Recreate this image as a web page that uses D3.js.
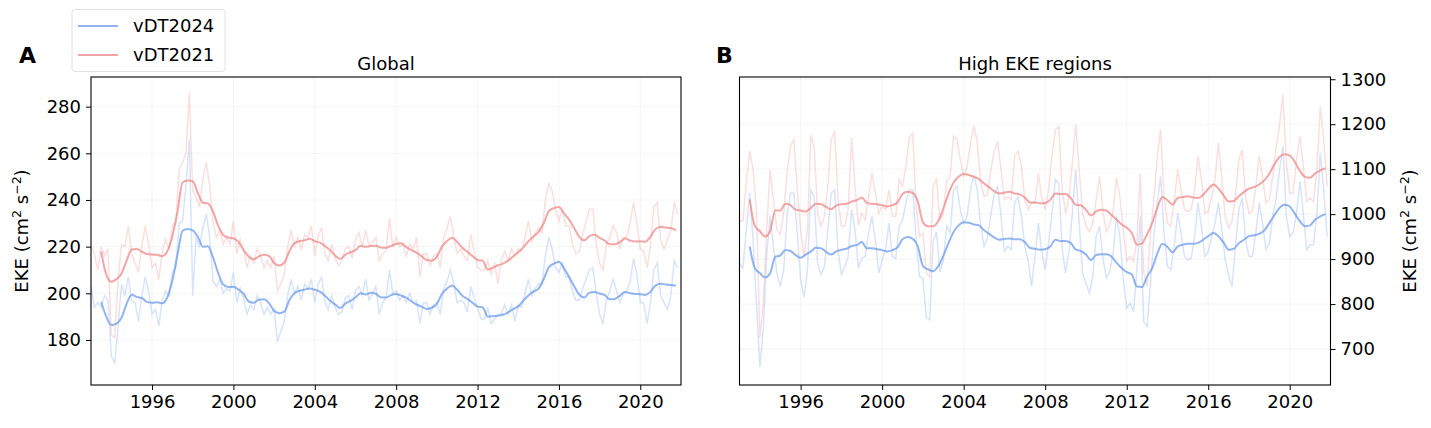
<!DOCTYPE html>
<html>
<head>
<meta charset="utf-8">
<script src="https://cdn.jsdelivr.net/npm/d3@7"></script>
<style>
  body { margin: 0; background: #fff; }
  svg { font-family: "DejaVu Sans", sans-serif; }
</style>
</head>
<body>
<svg id="chart"></svg>
<script>
// monthly-ish raw series (every 2 months from 1993.0)
let rawStart = 1993.0
let rawStep = 1 / 6
// smoothed series (quarterly from 1993.5)
let smStart = 1993.5
let smStep = 0.25

let rawGlobal2021 = [
  220,217,210,220,216,219,182,181,206,221, 220,229,217,213,209,220,229,221,211,213,
  206,218,223,219,229,230,253,256,260,286, 244,241,237,249,256,246,230,224,227,221,
  224,221,231,217,223,219,211,216,213,219, 216,211,214,211,216,201,204,208,220,227,
  220,224,219,225,224,229,216,225,228,217, 214,221,215,212,214,219,220,215,223,226,
  220,227,220,222,224,214,217,218,232,220, 224,220,221,216,221,219,224,207,217,217,
  212,216,217,211,224,228,233,224,217,219, 216,214,225,218,211,210,210,214,208,213,
  204,214,218,214,219,216,219,218,224,231, 222,226,228,226,240,247,244,236,231,236,
  229,229,221,217,218,225,231,236,236,221, 213,210,221,224,229,226,219,224,224,230,
  239,230,219,218,211,220,237,239,223,219, 223,227,239,234
]
let rawGlobal2024 = [
  203,194,196,194,199,197,173,170,186,204, 199,207,197,196,188,199,207,201,191,193,
  186,197,201,199,209,211,230,231,246,266, 199,224,220,228,234,224,205,203,206,200,
  202,201,209,196,202,198,191,195,193,199, 196,191,194,191,193,179,184,188,199,206,
  200,203,197,204,202,206,196,204,207,196, 193,199,194,191,192,198,199,193,201,203,
  199,206,197,200,203,191,196,198,210,200, 201,197,199,196,200,196,197,187,196,196,
  191,195,196,191,202,205,210,204,196,197, 196,192,203,198,194,189,189,194,187,189,
  191,191,195,191,195,188,195,194,200,206, 199,202,204,204,216,224,219,211,209,213,
  207,207,201,197,197,202,206,210,211,200, 191,187,197,201,206,201,196,200,201,205,
  215,208,196,196,187,196,210,213,199,196, 193,199,214,211
]
let rawHigh2021 = [
  984,984,1069,1140,1099,1010,725,800,965,1099, 1032,965,954,1002,1091,1151,1166,1054,965,906,
  965,1175,1150,1002,973,995,1062,1165,1185,1032, 973,973,1010,1170,1062,976,1002,987,1039,1091,
  1047,1002,1017,1010,1054,995,995,1077,1062,1106, 1170,1180,1017,950,958,870,860,1060,1080,984,
  1002,1073,1084,1173,1166,1121,1084,1106,1155,1197, 1158,1073,1039,1043,1099,1140,1162,1099,1032,1039,
  1032,1129,1140,1106,1032,1010,1025,1025,1091,1036, 1010,1054,1132,1188,1195,1054,1002,1036,1114,1199,
  1099,1002,976,961,980,1032,1084,1006,961,976, 1006,1080,1039,965,895,906,895,943,1091,870,
  840,958,1032,1129,1188,1039,980,973,1032,1099, 1054,1010,1006,1010,1054,1129,1077,1002,1006,1039,
  1077,1158,1077,995,969,984,1039,1121,1143,1039, 1002,1006,1062,1129,1084,1025,1032,1084,1147,1200,
  1265,1114,1047,1047,1121,1173,1106,1028,1036,1028, 1099,1240,1166,1062
]
let rawHigh2024 = [
  891,880,965,1047,943,802,660,742,906,995, 928,869,839,876,995,1047,1047,958,854,816,
  876,1054,1039,891,865,883,965,1047,1054,921, 865,883,906,1010,965,880,902,906,958,995,
  943,869,898,921,980,906,902,973,987,1025, 1054,1054,943,861,858,770,765,940,960,872,
  898,973,958,1054,1062,1010,980,995,1054,1088, 1054,976,928,947,999,1043,1062,995,917,928,
  921,1025,1039,995,928,895,840,906,980,917, 876,935,1002,1077,1069,921,869,917,1002,1099,
  980,869,846,824,861,950,973,902,858,872, 913,995,950,854,791,802,783,876,995,760,
  750,846,950,1025,1084,958,884,876,928,1002, 958,906,898,902,950,1025,973,906,917,950,
  980,1025,965,898,865,839,928,1010,1036,943, 906,906,958,1025,980,921,935,995,1036,1099,
  1151,995,950,958,1002,1073,1002,921,932,932, 1002,1136,1054,950
]

let smGlobal2021 = [
  217.9,208,205,206,208.5,214,218.8,219,217.8,216.8, 216.6,216.5,215.9,218,224.5,235,247.5,248.3,248,243,
  238.8,238.5,235,229,225,223.9,223.6,222,218.5,215.8, 214.6,215.8,216.5,216,213,211.9,213.1,218,221.5,222.3,
  222.7,223.4,222.3,221.7,220.3,218.5,216.2,214.7,216.5,217.6, 218.5,220.4,219.9,220.3,220.4,219.6,219.5,220.3,221.1,221.4,
  219.8,218.5,217.4,215.9,214.3,214,215.7,220,222.4,223.8, 222,219.5,217.8,216,214.3,214,210.2,211,212,212.7,
  214,215.8,217.6,219.7,222.3,224.4,226.3,230,235.2,236.5, 237,234.3,231.6,228,224.2,222.7,224.5,225.1,223.8,222.6,
  221,221,222,223.5,222.6,222.2,222.3,222.1,224.3,227.5, 228.5,228.2,228,227
]
let smGlobal2024 = [
  196.4,190,186.4,187,189.5,195.5,199.4,198.4,198,196.3, 195.9,196.2,195.7,198.3,205.5,216.5,226.8,227.6,227,224.2,
  220,220.2,215.3,208.7,203.8,202.7,202.8,201.6,199.8,196.5, 196,197.2,197.4,195.8,192.5,191.5,192.1,197,200,201.1,
  201.6,202.1,201.5,200.7,199,196.8,195.2,193.7,195.6,196.8, 198.2,200,199.5,200.2,199.8,198.3,198.2,199.2,199.7,199,
  198.1,196.5,195.2,194.3,193.3,193.8,195.5,199.7,202,203.3, 201.5,199,197.6,196,194.3,194,190,190.2,190.4,190.8,
  191.8,193.2,194.4,196.8,199.1,200.8,202,206,211.1,212.7, 213.5,210.7,207,203,199.4,198.2,200.3,200.6,199.9,199.2,
  197.4,197.6,199,200.6,200,199.7,199.6,199.3,200.7,203.4, 204.1,203.8,203.6,203.2
]
let smHigh2021 = [
  1033,974,962,950,962,1008,1008,1023,1020,1010, 1008,1006,1014,1023,1022,1016,1011,1019,1022,1023,
  1028,1031,1037,1025,1023,1022,1020,1017,1020,1026, 1045,1050,1047,1028,982,973,973,985,1012,1045,
  1070,1083,1089,1087,1083,1078,1068,1060,1051,1046, 1048,1050,1046,1044,1037,1026,1026,1024,1025,1032,
  1046,1045,1045,1036,1021,1020,1010,997,1006,1010, 1008,998,988,977,970,958,932,935,955,980,
  1014,1038,1031,1021,1036,1038,1040,1037,1036,1043, 1056,1066,1057,1042,1028,1029,1040,1049,1057,1060,
  1066,1075,1090,1111,1127,1133,1130,1116,1096,1083, 1081,1091,1097,1102
]
let smHigh2024 = [
  928,880,869,859,868,905,908,920,918,909, 903,910,917,925,924,916,910,917,921,923,
  929,931,938,924,924,922,920,917,920,926, 944,949,945,928,885,877,873,884,907,935,
  960,975,982,981,977,975,964,956,948,943, 945,946,944,944,938,925,923,921,922,928,
  943,940,940,936,921,918,910,898,909,911, 911,906,892,880,871,866,839,838,861,880,
  912,934,927,915,928,932,934,934,936,943, 951,958,951,937,921,923,935,943,951,953,
  956,964,980,998,1014,1021,1017,1001,984,973, 975,988,995,1000
]

let xTicks = [1996, 2000, 2004, 2008, 2012, 2016, 2020]
let yTicksGlobal = [180, 200, 220, 240, 260, 280]
let yTicksHigh = [700, 800, 900, 1000, 1100, 1200, 1300]
let seriesNames = ["vDT2024", "vDT2021"]
let colors = {"vDT2024": "#6495ED", "vDT2021": "#F08080"}

let width = 1431
let height = 428
let fontSize = 18

let svg = d3.select("#chart").attr("width", width).attr("height", height)

let drawPanel = (opt) => {
  let xScale = d3.scaleLinear().domain([1993, 2022]).range([opt.left, opt.right])
  let yScale = d3.scaleLinear().domain(opt.yDomain).range([385, 77])

  let g = svg.append("g")

  // grid
  g.selectAll(".vgrid").data(xTicks).enter().append("line")
   .attr("x1", d => xScale(d)).attr("x2", d => xScale(d))
   .attr("y1", 77).attr("y2", 385)
   .attr("stroke", "#b0b0b0").attr("stroke-opacity", 0.12).attr("stroke-width", 1)
  g.selectAll(".hgrid").data(opt.yTicks).enter().append("line")
   .attr("x1", opt.left).attr("x2", opt.right)
   .attr("y1", d => yScale(d)).attr("y2", d => yScale(d))
   .attr("stroke", "#b0b0b0").attr("stroke-opacity", 0.12).attr("stroke-width", 1)

  let rawLine = d3.line().x((d, i) => xScale(rawStart + i * rawStep)).y(d => yScale(d))
  let smLine = d3.line().x((d, i) => xScale(smStart + i * smStep)).y(d => yScale(d)).curve(d3.curveMonotoneX)

  let clipId = "clip" + opt.key
  svg.append("clipPath").attr("id", clipId).append("rect")
     .attr("x", opt.left).attr("y", 77).attr("width", opt.right - opt.left).attr("height", 308)
  let lines = g.append("g").attr("clip-path", "url(#" + clipId + ")")

  lines.append("path").datum(opt.raw24).attr("d", rawLine)
       .attr("fill", "none").attr("stroke", colors["vDT2024"]).attr("stroke-opacity", 0.25).attr("stroke-width", 1.5)
  lines.append("path").datum(opt.raw21).attr("d", rawLine)
       .attr("fill", "none").attr("stroke", colors["vDT2021"]).attr("stroke-opacity", 0.25).attr("stroke-width", 1.5)
  lines.append("path").datum(opt.sm24).attr("d", smLine)
       .attr("fill", "none").attr("stroke", colors["vDT2024"]).attr("stroke-opacity", 0.7).attr("stroke-width", 2)
  lines.append("path").datum(opt.sm21).attr("d", smLine)
       .attr("fill", "none").attr("stroke", colors["vDT2021"]).attr("stroke-opacity", 0.7).attr("stroke-width", 2)

  // axes
  let xAxis = d3.axisBottom(xScale).tickValues(xTicks).tickFormat(d3.format("d")).tickSize(5).tickPadding(5)
  let gx = g.append("g").attr("transform", "translate(0,385)").call(xAxis)
  let yAxis = opt.rightAxis
    ? d3.axisRight(yScale).tickValues(opt.yTicks).tickFormat(d3.format("d")).tickSize(5).tickPadding(5)
    : d3.axisLeft(yScale).tickValues(opt.yTicks).tickFormat(d3.format("d")).tickSize(5).tickPadding(5)
  let gy = g.append("g").attr("transform", "translate(" + (opt.rightAxis ? opt.right : opt.left) + ",0)").call(yAxis)
  ;[gx, gy].forEach(a => {
    a.select(".domain").remove()
    a.selectAll("text").attr("font-size", fontSize).attr("fill", "#000").attr("font-family", "DejaVu Sans")
    a.selectAll("line").attr("stroke", "#000").attr("stroke-width", 1)
  })

  // frame
  g.append("rect").attr("x", opt.left).attr("y", 77)
   .attr("width", opt.right - opt.left).attr("height", 308)
   .attr("fill", "none").attr("stroke", "#000").attr("stroke-width", 1.1)

  // title
  g.append("text").attr("x", (opt.left + opt.right) / 2).attr("y", 70)
   .attr("text-anchor", "middle").attr("font-size", fontSize).text(opt.title)

  // panel letter
  g.append("text").attr("x", opt.letterX).attr("y", 63)
   .attr("font-size", 22).attr("font-weight", "bold").text(opt.letter)

  // y label
  let lab = g.append("text")
   .attr("transform", "translate(" + opt.labelX + ",231) rotate(-90)")
   .attr("text-anchor", "middle").attr("font-size", fontSize)
  lab.append("tspan").text("EKE (cm")
  lab.append("tspan").attr("font-size", 12.5).attr("dy", -7).text("2")
  lab.append("tspan").attr("dy", 7).text(" s")
  lab.append("tspan").attr("font-size", 12.5).attr("dy", -7).text("\u22122")
  lab.append("tspan").attr("dy", 7).text(")")
}

drawPanel({
  key: "A", left: 91, right: 681, yDomain: [160.7, 292.7], yTicks: yTicksGlobal,
  raw21: rawGlobal2021, raw24: rawGlobal2024, sm21: smGlobal2021, sm24: smGlobal2024,
  title: "Global", letter: "A", letterX: 19, labelX: 28, rightAxis: false
})
drawPanel({
  key: "B", left: 739.5, right: 1330.5, yDomain: [620, 1305], yTicks: yTicksHigh,
  raw21: rawHigh2021, raw24: rawHigh2024, sm21: smHigh2021, sm24: smHigh2024,
  title: "High EKE regions", letter: "B", letterX: 716, labelX: 1416, rightAxis: true
})

// legend
let legend = svg.append("g")
legend.append("rect").attr("x", 72).attr("y", 9.5).attr("width", 153).attr("height", 62).attr("rx", 3)
      .attr("fill", "#fff").attr("fill-opacity", 0.8).attr("stroke", "#e0e0e0").attr("stroke-width", 1)
legend.selectAll(".lg-line").data(seriesNames).enter().append("line")
      .attr("x1", 78).attr("x2", 118)
      .attr("y1", (d, i) => 26 + i * 29).attr("y2", (d, i) => 26 + i * 29)
      .attr("stroke", d => colors[d]).attr("stroke-opacity", 0.7).attr("stroke-width", 2)
legend.selectAll(".lg-text").data(seriesNames).enter().append("text")
      .attr("x", 133).attr("y", (d, i) => 32 + i * 29)
      .attr("font-size", fontSize).text(d => d)
</script>
</body>
</html>
